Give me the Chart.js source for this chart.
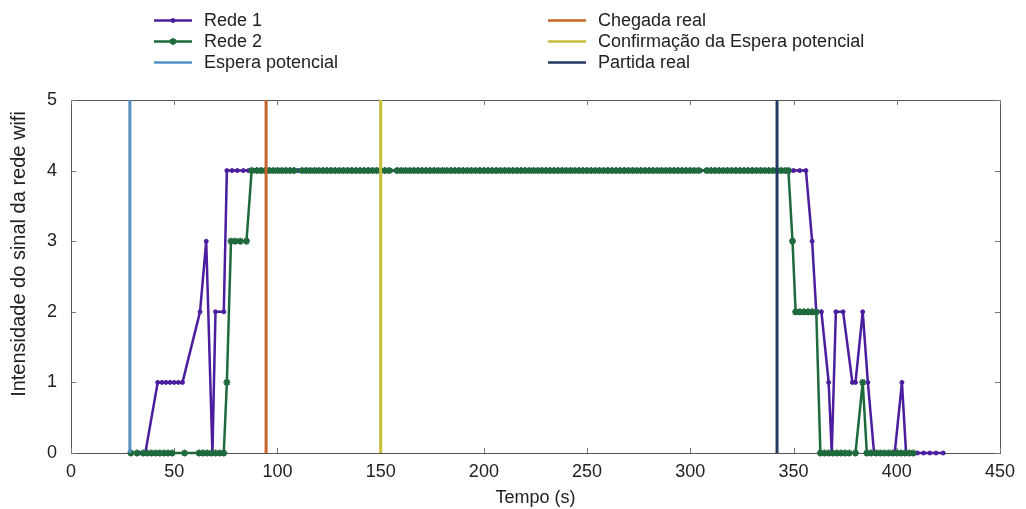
<!DOCTYPE html>
<html>
<head>
<meta charset="utf-8">
<script src="https://cdn.jsdelivr.net/npm/chart.js@4.4.1/dist/chart.umd.min.js"></script>
<style>
  html, body { margin: 0; padding: 0; background: #fff; }
  #wrap { width: 1026px; height: 509px; position: relative; }
</style>
</head>
<body>
<div id="wrap"><canvas id="grafico"></canvas></div>
<script>
// --- Dados: [tempo (s), intensidade] ---
const rede1 = [
  [29,0],[33,0],[36,0],[42,1],[44,1],[46,1],[48,1],[50,1],[52,1],[54,1],
  [62.5,2],[65.5,3],[68.5,0],[70,2],[74,2],[75.5,4],[78,4],[80.5,4],[83.5,4],[86,4],
  [89,4],[92,4],[95,4],[98,4],[101,4],[104,4],[107,4],[110,4],[113,4],[116,4],
  [119,4],[122,4],[125,4],[128,4],[131,4],[134,4],[137,4],[140,4],[143,4],[146,4],
  [149,4],[152,4],[155,4],[158,4],[161,4],[164,4],[167,4],[170,4],[173,4],[176,4],
  [179,4],[182,4],[185,4],[188,4],[191,4],[194,4],[197,4],[200,4],[203,4],[206,4],
  [209,4],[212,4],[215,4],[218,4],[221,4],[224,4],[227,4],[230,4],[233,4],[236,4],
  [239,4],[242,4],[245,4],[248,4],[251,4],[254,4],[257,4],[260,4],[263,4],[266,4],
  [269,4],[272,4],[275,4],[278,4],[281,4],[284,4],[287,4],[290,4],[293,4],[296,4],
  [299,4],[302,4],[305,4],[308,4],[311,4],[314,4],[317,4],[320,4],[323,4],[326,4],
  [329,4],[332,4],[335,4],[338,4],[341,4],[344,4],[347,4],[350,4],[353,4],[356,4],
  [359,3],[361,2],[363.5,2],[367,1],[368.5,0],[370.5,2],[374,2],[378.5,1],[380,1],
  [383.5,2],[386,1],[389,0],[391,0],[393,0],[395,0],[397,0],[399,0],[402.5,1],[404.5,0],
  [407,0],[410,0],[413,0],[416,0],[419,0],[422.5,0]
];

const rede2 = [
  [29,0],[32,0],[35,0],[37,0],[39,0],[41,0],[43,0],[45,0],[47,0],[49,0],[55,0],
  [62,0],[64,0],[66,0],[68,0],[70,0],[72,0],[74,0],[75.5,1],[77.5,3],[79.5,3],[82,3],[85,3],
  [87.5,4],[90,4],[92,4],[94,4],[96,4],[98,4],[100,4],[102,4],[104,4],[106,4],[108,4],
  [112,4],[114,4],[116,4],[118,4],[120,4],[122,4],[124,4],[126,4],[128,4],[130,4],
  [132,4],[134,4],[136,4],[138,4],[140,4],[142,4],[144,4],[146,4],[148,4],[150,4],
  [152,4],[154,4],[158,4],[160,4],[162,4],[164,4],[166,4],[168,4],[170,4],[172,4],
  [174,4],[176,4],[178,4],[180,4],[182,4],[184,4],[186,4],[188,4],[190,4],[192,4],
  [194,4],[196,4],[198,4],[200,4],[202,4],[204,4],[206,4],[208,4],[210,4],[212,4],
  [214,4],[216,4],[218,4],[220,4],[222,4],[224,4],[226,4],[228,4],[230,4],[232,4],
  [234,4],[236,4],[238,4],[240,4],[242,4],[244,4],[246,4],[248,4],[250,4],[252,4],
  [254,4],[256,4],[258,4],[260,4],[262,4],[264,4],[266,4],[268,4],[270,4],[272,4],
  [274,4],[276,4],[278,4],[280,4],[282,4],[284,4],[286,4],[288,4],[290,4],[292,4],
  [294,4],[296,4],[298,4],[300,4],[302,4],[304,4],[308,4],[310,4],[312,4],[314,4],
  [316,4],[318,4],[320,4],[322,4],[324,4],[326,4],[328,4],[330,4],[332,4],[334,4],
  [336,4],[338,4],[340,4],[342,4],[344,4],[346,4],[347.5,4],
  [349.5,3],[351,2],[353,2],[355,2],[357,2],[359,2],[361,2],[363,0],[365,0],[367,0],
  [369,0],[371,0],[373,0],[375,0],[377,0],[380,0],[383.5,1],[385.5,0],[387.5,0],[390,0],
  [392,0],[394,0],[396,0],[398,0],[400,0],[402,0],[404,0],[406,0],[408,0]
];

// eventos (linhas verticais)
const eventoNomes = ['Espera potencial', 'Chegada real', 'Confirmação da Espera potencial', 'Partida real'];
const eventoTempos = [28.5, 94.5, 150, 342];
const eventoCores = ['#5590c4', '#c8642a', '#c9bd3c', '#243a62'];

const xTicks = [0, 50, 100, 150, 200, 250, 300, 350, 400, 450];
const yTicks = [0, 1, 2, 3, 4, 5];

const corRede1 = '#4b1d9f';
const corRede2 = '#1f6a3d';
const fonte = '"Liberation Sans", Arial, sans-serif';

// --- Datasets ---
const datasets = [
  {
    label: 'Rede 1',
    data: rede1.map(p => ({ x: p[0], y: p[1] })),
    borderColor: corRede1, backgroundColor: corRede1,
    borderWidth: 2.5, pointStyle: 'circle', pointRadius: 2, pointBorderWidth: 1,
    showLine: true, order: 6, clip: false
  },
  {
    label: 'Rede 2',
    data: rede2.map(p => ({ x: p[0], y: p[1] })),
    borderColor: corRede2, backgroundColor: corRede2,
    borderWidth: 2.5, pointStyle: 'star', pointRadius: 3.5, pointBorderWidth: 1.8,
    showLine: true, order: 5, clip: false
  }
];
eventoNomes.forEach((nome, i) => {
  datasets.push({
    label: nome,
    data: [{ x: eventoTempos[i], y: 0 }, { x: eventoTempos[i], y: 5 }],
    borderColor: eventoCores[i], backgroundColor: eventoCores[i],
    borderWidth: 3, pointRadius: 0, showLine: true, order: 4 - i, clip: false
  });
});

// --- Moldura, marcas internas, títulos e legenda estilo gnuplot ---
const estiloGnuplot = {
  id: 'estiloGnuplot',
  beforeDatasetsDraw(chart) {
    const { ctx, chartArea: a, scales } = chart;
    ctx.save();
    ctx.strokeStyle = '#555';
    ctx.lineWidth = 1;
    ctx.strokeRect(a.left + 0.5, a.top + 0.5, a.right - a.left, a.bottom - a.top);
    ctx.strokeStyle = '#777';
    ctx.beginPath();
    xTicks.forEach(v => {
      const px = Math.round(scales.x.getPixelForValue(v)) + 0.5;
      ctx.moveTo(px, a.bottom); ctx.lineTo(px, a.bottom - 5);
      ctx.moveTo(px, a.top); ctx.lineTo(px, a.top + 5);
    });
    yTicks.forEach(v => {
      const py = Math.round(scales.y.getPixelForValue(v)) + 0.5;
      ctx.moveTo(a.left, py); ctx.lineTo(a.left + 5, py);
      ctx.moveTo(a.right, py); ctx.lineTo(a.right - 5, py);
    });
    ctx.stroke();
    ctx.restore();
  },
  afterDraw(chart) {
    const { ctx, chartArea: a } = chart;
    ctx.save();
    ctx.fillStyle = '#222';
    ctx.font = '18px ' + fonte;
    // títulos dos eixos
    ctx.textAlign = 'center';
    ctx.textBaseline = 'middle';
    ctx.fillText('Tempo (s)', (a.left + a.right) / 2, 498);
    ctx.font = '20px ' + fonte;
    ctx.translate(19, 254);
    ctx.rotate(-Math.PI / 2);
    ctx.fillText('Intensidade do sinal da rede wifi', 0, 0);
    ctx.restore();

    // legenda em duas colunas
    ctx.save();
    ctx.font = '18px ' + fonte;
    ctx.textBaseline = 'middle';
    const linhas = [20.5, 41.5, 62.5];
    chart.data.datasets.forEach((ds, i) => {
      const col = i < 3 ? 0 : 1;
      const row = i < 3 ? i : i - 3;
      const x0 = col === 0 ? 154 : 548;
      const y = linhas[row];
      ctx.strokeStyle = ds.borderColor;
      ctx.lineWidth = 2.5;
      ctx.beginPath();
      ctx.moveTo(x0, y); ctx.lineTo(x0 + 38, y);
      ctx.stroke();
      if (ds.pointRadius > 0) {
        ctx.fillStyle = ds.backgroundColor;
        ctx.lineWidth = ds.pointBorderWidth;
        Chart.helpers.drawPoint(ctx, {
          pointStyle: ds.pointStyle, radius: ds.pointRadius,
          borderWidth: ds.pointBorderWidth, rotation: 0
        }, x0 + 19, y);
      }
      ctx.fillStyle = '#222';
      ctx.fillText(ds.label, x0 + 50, y + 1);
    });
    ctx.restore();
  }
};

new Chart(document.getElementById('grafico'), {
  type: 'scatter',
  data: { datasets },
  options: {
    responsive: true,
    maintainAspectRatio: false,
    animation: false,
    layout: { padding: { top: 100, right: 26, left: 0, bottom: 0 } },
    plugins: { legend: { display: false }, tooltip: { enabled: false } },
    scales: {
      x: {
        type: 'linear', min: 0, max: 450,
        afterFit: s => { s.height = 56; },
        afterBuildTicks: s => { s.ticks = xTicks.map(v => ({ value: v })); },
        grid: { display: false, drawTicks: false },
        border: { display: false },
        ticks: { color: '#222', font: { size: 18, family: fonte }, padding: 8, maxRotation: 0 }
      },
      y: {
        type: 'linear', min: 0, max: 5,
        afterFit: s => { s.width = 71; },
        afterBuildTicks: s => { s.ticks = yTicks.map(v => ({ value: v })); },
        grid: { display: false, drawTicks: false },
        border: { display: false },
        ticks: { color: '#222', font: { size: 18, family: fonte }, padding: 14 }
      }
    }
  },
  plugins: [estiloGnuplot]
});
</script>
</body>
</html>
